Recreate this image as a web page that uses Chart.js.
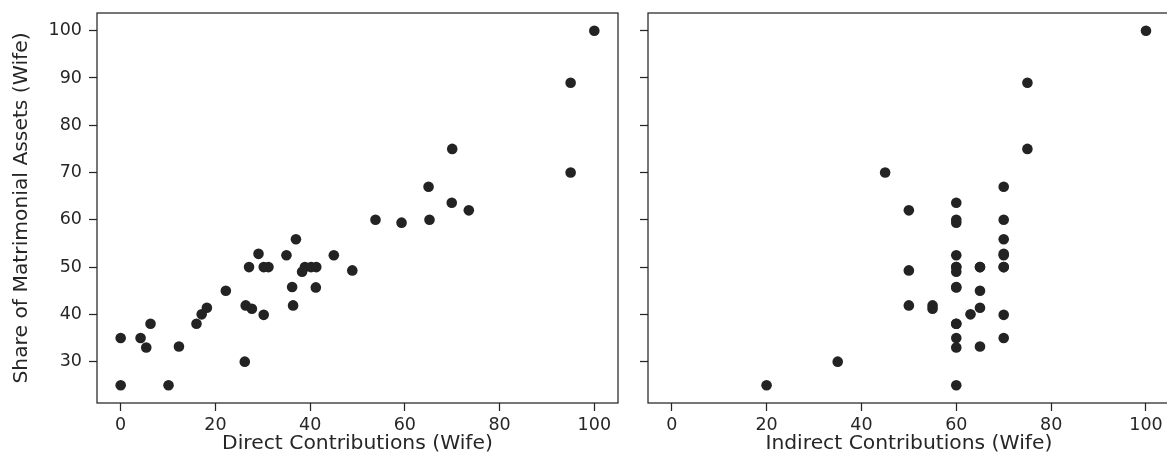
<!DOCTYPE html>
<html>
<head>
<meta charset="utf-8">
<script src="https://cdn.jsdelivr.net/npm/chart.js@4.4.0/dist/chart.umd.min.js"></script>
<style>
  html, body { margin: 0; padding: 0; background: #fff; overflow: hidden; }
  #wrap { position: relative; width: 1167px; height: 468px; overflow: hidden; }
  .panel { position: absolute; top: 0; height: 468px; }
  #left-panel { left: 0; width: 630px; }
  #right-panel { left: 630px; width: 545px; }
</style>
</head>
<body>
<div id="wrap">
  <div class="panel" id="left-panel"><canvas id="direct-chart"></canvas></div>
  <div class="panel" id="right-panel"><canvas id="indirect-chart"></canvas></div>
</div>
<script>
// share of matrimonial assets awarded to the wife, one entry per case
const share = [100, 89, 75, 70, 67, 63.6, 62, 60, 59.4, 60, 55.9, 52.8, 52.5, 52.5, 50, 50, 50, 50, 50, 50,
  49.3, 49, 45.8, 45.7, 45, 41.9, 41.9, 41.4, 41.2, 40, 39.9, 38, 38, 35, 35, 33, 33.2, 30, 25, 25];
const directContrib = [100, 95, 70, 95, 65, 69.9, 73.5, 53.8, 59.3, 65.2, 37, 29.1, 35, 45, 27.1, 30.2, 31.2, 38.9, 40.2, 41.3,
  48.9, 38.3, 36.2, 41.2, 22.2, 26.4, 36.4, 18.2, 27.7, 17.1, 30.2, 6.3, 16, 0, 4.2, 5.4, 12.3, 26.2, 0, 10.1];
const indirectContrib = [100, 75, 75, 45, 70, 60, 50, 70, 60, 60, 70, 70, 70, 60, 60, 65, 70, 60, 70, 65,
  50, 60, 60, 60, 65, 50, 55, 65, 55, 63, 70, 60, 60, 60, 70, 60, 65, 35, 20, 60];

const xTicks = [0, 20, 40, 60, 80, 100];
const yTicks = [30, 40, 50, 60, 70, 80, 90, 100];

const INK = "#262626";
const DOT = "#232323";
const FONT = "DejaVu Sans";

// matplotlib style box round the plot area
const frame = {
  id: "frame",
  afterDatasetsDraw(chart) {
    const { ctx, chartArea } = chart;
    ctx.save();
    ctx.strokeStyle = INK;
    ctx.lineWidth = 1.25;
    ctx.strokeRect(chartArea.left, chartArea.top, chartArea.right - chartArea.left, chartArea.bottom - chartArea.top);
    ctx.restore();
  },
};

function makeScatter(canvasId, xValues, xTitle, showYLabels, yAxisWidth, rightPad) {
  const ctx = document.getElementById(canvasId).getContext("2d");
  const points = xValues.map((x, i) => ({ x: x, y: share[i] }));

  return new Chart(ctx, {
    type: "scatter",
    data: {
      datasets: [
        {
          data: points,
          pointRadius: 5.3,
          pointHoverRadius: 5.3,
          pointBorderWidth: 0,
          backgroundColor: DOT,
          borderColor: DOT,
        },
      ],
    },
    options: {
      responsive: true,
      maintainAspectRatio: false,
      animation: false,
      layout: { padding: { top: 13, right: rightPad, left: 0, bottom: 0 } },
      plugins: {
        legend: { display: false },
        tooltip: { enabled: false },
      },
      scales: {
        x: {
          type: "linear",
          min: -5,
          max: 105,
          afterBuildTicks: (axis) => {
            axis.ticks = xTicks.map((v) => ({ value: v }));
          },
          afterFit: (scale) => {
            scale.height = 65;
            scale.paddingLeft = 0;
            scale.paddingRight = 0;
          },
          border: { display: false },
          grid: {
            display: true,
            drawOnChartArea: false,
            drawTicks: true,
            tickLength: 8,
            tickWidth: 1.25,
            tickColor: INK,
          },
          ticks: {
            color: INK,
            padding: 4,
            maxRotation: 0,
            font: { family: FONT, size: 17.5 },
          },
          title: {
            display: true,
            text: xTitle,
            color: INK,
            padding: { top: 0, bottom: 12 },
            font: { family: FONT, size: 20.3 },
          },
        },
        y: {
          type: "linear",
          min: 21.25,
          max: 103.75,
          afterBuildTicks: (axis) => {
            axis.ticks = yTicks.map((v) => ({ value: v }));
          },
          afterFit: (scale) => {
            scale.width = yAxisWidth;
            scale.paddingTop = 0;
            scale.paddingBottom = 0;
          },
          border: { display: false },
          grid: {
            display: true,
            drawOnChartArea: false,
            drawTicks: true,
            tickLength: 8,
            tickWidth: 1.25,
            tickColor: INK,
          },
          ticks: {
            display: showYLabels,
            color: INK,
            padding: 7,
            font: { family: FONT, size: 17.5 },
          },
          title: {
            display: showYLabels,
            text: "Share of Matrimonial Assets (Wife)",
            color: INK,
            padding: { top: 10, bottom: 0 },
            font: { family: FONT, size: 20.3 },
          },
        },
      },
    },
    plugins: [frame],
  });
}

makeScatter("direct-chart", directContrib, "Direct Contributions (Wife)", true, 97, 12);
makeScatter("indirect-chart", indirectContrib, "Indirect Contributions (Wife)", false, 18, 4);
</script>
</body>
</html>
